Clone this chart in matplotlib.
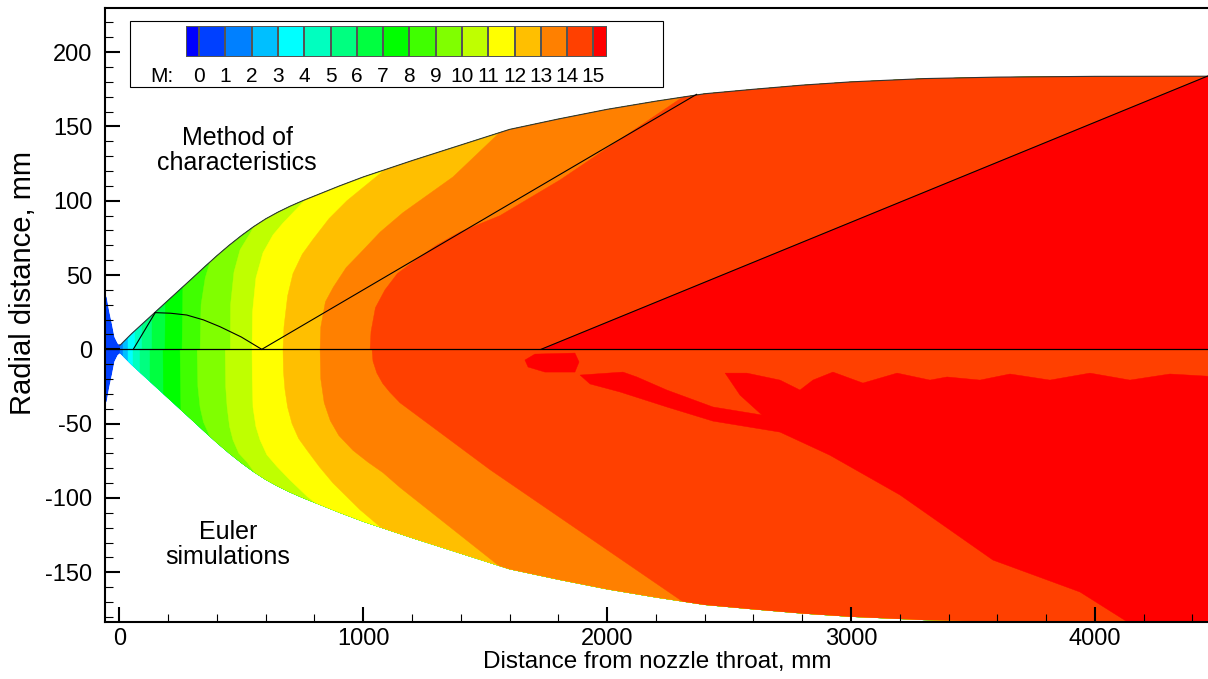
import matplotlib
matplotlib.use('Agg')
import matplotlib.pyplot as plt
from matplotlib import ticker
from matplotlib.patches import Polygon, Rectangle

# Tecplot style colour bands: below 0, 0-1, 1-2, ..., 14-15, above 15
levels = list(range(16))
band_colors = ['#0000FF', '#0040FF', '#0080FF', '#00BFFF', '#00FFFF',
               '#00FFBF', '#00FF80', '#00FF40', '#00FF00', '#40FF00',
               '#80FF00', '#BFFF00', '#FFFF00', '#FFBF00', '#FF8000',
               '#FF4000', '#FF0000']

# nozzle wall contour, mm (lower half is the mirror image)
wall_x = [-75, -60, -52, -42, -31, -20, -7, 0, 3, 50, 100, 150, 200, 250,
          300, 350, 400, 450, 500, 550, 600, 650, 700, 750, 800, 900, 1000,
          1200, 1400, 1600, 1800, 2000, 2200, 2400, 2600, 2800, 3000, 3300,
          3600, 4000, 4464, 4600]
wall_r = [40, 37, 35.2, 26, 17.5, 8.3, 4, 3, 2.8, 10.5, 18, 25.5, 33, 40.5,
          48, 55.6, 63, 70, 76.5, 82.5, 87.8, 92.3, 96.3, 99.9, 103.2, 109.8,
          116, 127, 137.5, 148, 155, 161.5, 167, 172, 175, 177.8, 180, 182.2,
          183.2, 183.7, 183.8, 184]

# iso-Mach lines, upper half (method of characteristics): level -> (x, r)
moc_iso = {
    1: ([3, 3], [0, 30]),
    2: ([15, 15], [0, 30]),
    3: ([36, 36], [0, 30]),
    4: ([64, 64], [0, 30]),
    5: ([93, 93], [0, 40]),
    6: ([134, 134], [0, 40]),
    7: ([187, 190], [0, 50]),
    8: ([257, 262], [0, 60]),
    9: ([331, 335, 352, 385], [0, 30, 48, 66]),
    10: ([455, 456, 470, 495, 536, 570], [0, 30, 52, 67, 78, 88]),
    11: ([544, 546, 560, 589, 630, 671, 753, 823],
         [0, 25, 48, 65, 77, 85, 99, 111]),
    12: ([671, 675, 690, 712, 750, 794, 860, 933, 1097, 1192],
         [0, 15, 36, 51, 64, 74, 88, 100, 122, 134]),
    13: ([823, 826, 845, 878, 930, 989, 1070, 1163, 1368, 1573, 1684],
         [0, 15, 32, 42, 55, 65, 79, 92, 116, 148, 164]),
    14: ([1028, 1032, 1050, 1089, 1140, 1213, 1300, 1397, 1561, 1807, 2312, 2464],
         [0, 12, 28, 40, 51, 60, 70, 79, 90, 114, 170, 188]),
    15: ([1729, 4464, 4600], [0, 184, 192]),
}

# iso-Mach lines, lower half (Euler), radial distance given as magnitude
euler_iso = {
    1: ([3, 3], [0, 30]),
    2: ([15, 15], [0, 30]),
    3: ([36, 36], [0, 30]),
    4: ([56, 56], [0, 30]),
    5: ([85, 85], [0, 40]),
    6: ([126, 126], [0, 40]),
    7: ([179, 182], [0, 50]),
    8: ([249, 254], [0, 60]),
    9: ([319, 322, 331, 345, 364, 392], [0, 25, 39, 49, 56, 68]),
    10: ([434, 436, 442, 452, 466, 490, 524, 577], [0, 25, 39, 52, 61, 70, 76, 88]),
    11: ([544, 545, 548, 560, 577, 605, 647, 700, 770, 864],
         [0, 20, 39, 52, 61, 71, 79, 88, 99, 111]),
    12: ([671, 673, 679, 690, 708, 735, 770, 820, 876, 987, 1102, 1192],
         [0, 15, 27, 39, 50, 60, 68, 79, 90, 108, 124, 135]),
    13: ([823, 826, 840, 865, 900, 958, 1020, 1081, 1151, 1582, 1684],
         [0, 20, 36, 48, 58, 68, 76, 83, 93, 149, 162]),
    14: ([1036, 1040, 1056, 1080, 1110, 1151, 1520, 2312, 2464],
         [0, 8, 16, 23, 29, 36, 81, 170, 188]),
}

# M > 15 patches in the Euler solution
red_blob_x = [1663, 1704, 1868, 1885, 1868, 1745, 1676]
red_blob_y = [-7.2, -3.2, -2.5, -8.5, -15.3, -15.3, -11.9]
red_wedge_x = [1889, 2065, 2122, 2245, 2434, 2635, 2545, 2484, 2573, 2709,
               2791, 2844, 2926, 3049, 3189, 3324, 3394, 3529, 3652, 3816,
               3980, 4144, 4308, 4600, 4600, 4197, 3939, 3582, 3201, 2913,
               2709, 2434, 2245, 2053, 1930]
red_wedge_y = [-17.3, -15.3, -18.6, -27.4, -38.8, -44.2, -30.8, -16, -16,
               -20.7, -27.4, -20.7, -15.3, -22.7, -16, -20.7, -18.6, -20.7,
               -16.6, -20.7, -16, -20.7, -16.6, -19.4, -200, -190, -163.3,
               -141.8, -98, -71.2, -55.7, -48.3, -38.8, -28.7, -23.3]

# characteristic lines drawn on the MOC half
char_lines = [
    ([57, 147], [0, 24.7]),
    ([147, 210, 276, 345, 413, 500, 584], [24.7, 24.3, 23.1, 19.8, 15.2, 8.3, 0]),
    ([584, 2367], [0, 171.6]),
    ([1729, 4464], [0, 184]),
]

plt.rcParams['font.family'] = ['Liberation Sans', 'DejaVu Sans']
plt.rcParams['font.size'] = 17
plt.rcParams['axes.unicode_minus'] = False

fig = plt.figure(figsize=(12.08, 6.79), dpi=100)
ax = fig.add_axes([0.0869, 0.0835, 0.9131, 0.9047])

# clip everything to the nozzle
nozzle_pts = list(zip(wall_x, wall_r)) + list(zip(wall_x[::-1], [-r for r in wall_r[::-1]]))
nozzle = Polygon(nozzle_pts, closed=True, facecolor='none', edgecolor='none')
ax.add_patch(nozzle)


def add_band(xs, ys, color, sign):
    far = 260 * sign
    pts = list(zip(xs, [sign * y for y in ys]))
    pts += [(xs[-1], far), (5000, far), (5000, 0)]
    p = Polygon(pts, closed=True, facecolor=color, edgecolor=color, lw=0.3, zorder=1)
    ax.add_patch(p)
    p.set_clip_path(nozzle)


base = Polygon(nozzle_pts, closed=True, facecolor=band_colors[1], edgecolor='none', zorder=1)
ax.add_patch(base)
base.set_clip_path(nozzle)

for k in levels[1:]:
    if k in moc_iso:
        add_band(moc_iso[k][0], moc_iso[k][1], band_colors[k + 1], 1)
    if k in euler_iso:
        add_band(euler_iso[k][0], euler_iso[k][1], band_colors[k + 1], -1)

for px, py in [(red_blob_x, red_blob_y), (red_wedge_x, red_wedge_y)]:
    p = Polygon(list(zip(px, py)), closed=True, facecolor=band_colors[16],
                edgecolor=band_colors[16], lw=0.3, zorder=1)
    ax.add_patch(p)
    p.set_clip_path(nozzle)

# lines
ax.plot(wall_x[7:-1], wall_r[7:-1], color='#333333', lw=0.8, zorder=3)
ax.axhline(0, color='black', lw=0.9, zorder=3)
for cx, cy in char_lines:
    ax.plot(cx, cy, color='black', lw=0.8, zorder=3)

ax.text(483, 134, 'Method of\ncharacteristics', ha='center', va='center',
        fontsize=18, linespacing=1.05, zorder=4)
ax.text(446, -131.5, 'Euler\nsimulations', ha='center', va='center',
        fontsize=18, linespacing=1.05, zorder=4)

ax.set_xlim(-59, 4464)
ax.set_ylim(-183.7, 229.7)
ax.xaxis.set_major_locator(ticker.MultipleLocator(1000))
ax.xaxis.set_minor_locator(ticker.MultipleLocator(200))
ax.yaxis.set_major_locator(ticker.MultipleLocator(50))
ax.yaxis.set_minor_locator(ticker.MultipleLocator(10))
ax.tick_params(which='both', direction='in', top=False, right=False)
ax.tick_params(which='major', length=10.5, width=1.5, labelsize=17)
ax.tick_params(axis='x', which='major', pad=4)
ax.tick_params(axis='y', which='major', pad=9)
ax.tick_params(which='minor', length=5.5, width=0.8)
ax.spines['right'].set_visible(False)
for s in ['left', 'bottom', 'top']:
    ax.spines[s].set_linewidth(1.5)

ax.set_xlabel('Distance from nozzle throat, mm', fontsize=17.5)
ax.set_ylabel('Radial distance, mm', fontsize=21)
ax.xaxis.set_label_coords(0.501, -0.047)
ax.yaxis.set_label_coords(-0.062, 0.552)

# legend box with the colour bar
ax.add_patch(Rectangle((0.0227, 0.8709), 0.4832, 0.1084, transform=ax.transAxes,
                       facecolor='white', edgecolor='black', lw=0.8, zorder=5))
cax = ax.inset_axes([0.0734, 0.9197, 0.3814, 0.051])
cax.set_zorder(6)
edges = [-0.5] + levels + [15.5]
cax.pcolormesh(edges, [0, 1], [list(range(17))],
               cmap=matplotlib.colors.ListedColormap(band_colors),
               vmin=-0.5, vmax=16.5, edgecolors='#555555', linewidth=0.25)
cax.set_xlim(-0.5, 15.5)
cax.set_ylim(0, 1)
cax.axis('off')
for lv in levels:
    cax.text(lv, -0.6, str(lv), ha='center', va='center', fontsize=15, clip_on=False)
cax.text(-1.4, -0.6, 'M:', ha='center', va='center', fontsize=15, clip_on=False)

fig.savefig('out.png', dpi=100)
